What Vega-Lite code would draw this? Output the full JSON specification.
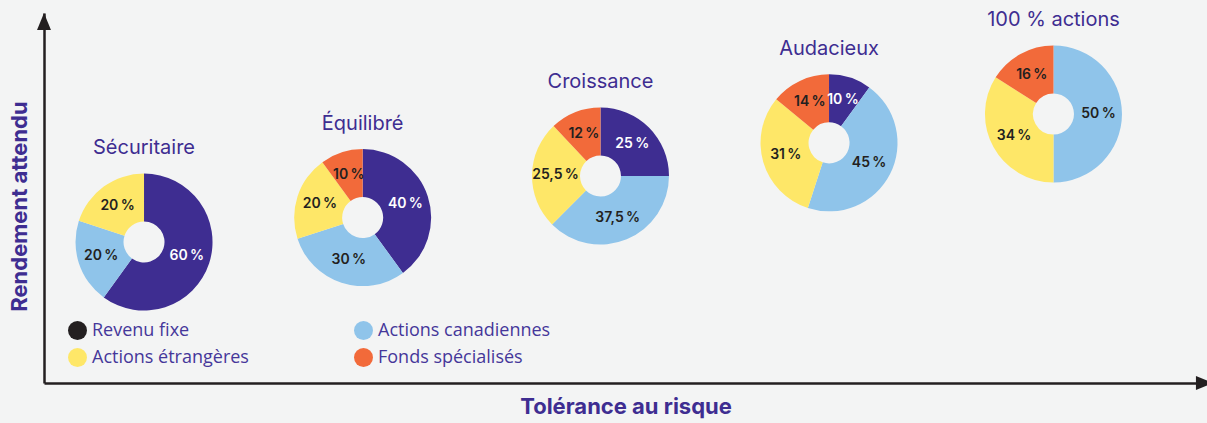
{
  "$schema": "https://vega.github.io/schema/vega-lite/v6.json",
  "width": 1163,
  "height": 370,
  "autosize": {"type": "none"},
  "padding": {"left": 44, "top": 13, "right": 0, "bottom": 40},
  "background": "#f3f4f4",
  "config": {
    "view": {"stroke": null},
    "legend": {
      "orient": "none",
      "direction": "horizontal",
      "legendX": 24,
      "legendY": 308,
      "columns": 2,
      "columnPadding": 105,
      "rowPadding": 8,
      "symbolType": "circle",
      "symbolSize": 360,
      "symbolOpacity": 1,
      "symbolStrokeWidth": 0,
      "labelFont": "Open Sans",
      "labelFontSize": 18,
      "labelColor": "#45379a",
      "labelOffset": 5,
      "labelLimit": 400
    }
  },
  "datasets": {
    "profiles": [
      {"profile": "Sécuritaire", "tolerance": 8.6, "rendement": 38.1},
      {"profile": "Équilibré", "tolerance": 27.4, "rendement": 44.7},
      {"profile": "Croissance", "tolerance": 47.85, "rendement": 55.95},
      {"profile": "Audacieux", "tolerance": 67.5, "rendement": 64.9},
      {"profile": "100 % actions", "tolerance": 86.8, "rendement": 72.7}
    ],
    "allocations": [
      {"profile": "Sécuritaire", "category": "Revenu fixe", "rank": 1, "value": 60, "label": "60\u202f%"},
      {"profile": "Sécuritaire", "category": "Actions canadiennes", "rank": 2, "value": 20, "label": "20\u202f%"},
      {"profile": "Sécuritaire", "category": "Actions étrangères", "rank": 3, "value": 20, "label": "20\u202f%"},
      {"profile": "Équilibré", "category": "Revenu fixe", "rank": 1, "value": 40, "label": "40\u202f%"},
      {"profile": "Équilibré", "category": "Actions canadiennes", "rank": 2, "value": 30, "label": "30\u202f%"},
      {"profile": "Équilibré", "category": "Actions étrangères", "rank": 3, "value": 20, "label": "20\u202f%"},
      {"profile": "Équilibré", "category": "Fonds spécialisés", "rank": 4, "value": 10, "label": "10\u202f%"},
      {"profile": "Croissance", "category": "Revenu fixe", "rank": 1, "value": 25, "label": "25\u202f%"},
      {"profile": "Croissance", "category": "Actions canadiennes", "rank": 2, "value": 37.5, "label": "37,5\u202f%"},
      {"profile": "Croissance", "category": "Actions étrangères", "rank": 3, "value": 25.5, "label": "25,5\u202f%"},
      {"profile": "Croissance", "category": "Fonds spécialisés", "rank": 4, "value": 12, "label": "12\u202f%"},
      {"profile": "Audacieux", "category": "Revenu fixe", "rank": 1, "value": 10, "label": "10\u202f%"},
      {"profile": "Audacieux", "category": "Actions canadiennes", "rank": 2, "value": 45, "label": "45\u202f%"},
      {"profile": "Audacieux", "category": "Actions étrangères", "rank": 3, "value": 31, "label": "31\u202f%"},
      {"profile": "Audacieux", "category": "Fonds spécialisés", "rank": 4, "value": 14, "label": "14\u202f%"},
      {"profile": "100 % actions", "category": "Actions canadiennes", "rank": 2, "value": 50, "label": "50\u202f%"},
      {"profile": "100 % actions", "category": "Actions étrangères", "rank": 3, "value": 34, "label": "34\u202f%"},
      {"profile": "100 % actions", "category": "Fonds spécialisés", "rank": 4, "value": 16, "label": "16\u202f%"}
    ]
  },
  "encoding": {
    "x": {
      "field": "tolerance",
      "type": "quantitative",
      "scale": {"domain": [0, 100], "nice": false, "zero": false},
      "axis": {
        "title": "Tolérance au risque",
        "titleFont": "Inter",
        "titleFontWeight": 700,
        "titleFontSize": 22,
        "titleColor": "#3e2d91",
        "titlePadding": 13,
        "labels": false,
        "ticks": false,
        "grid": false,
        "domainColor": "#231f20",
        "domainWidth": 2.5
      }
    },
    "y": {
      "field": "rendement",
      "type": "quantitative",
      "scale": {"domain": [0, 100], "nice": false, "zero": false},
      "axis": {
        "title": "Rendement attendu",
        "titleFont": "Inter",
        "titleFontWeight": 700,
        "titleFontSize": 22,
        "titleColor": "#3e2d91",
        "titlePadding": 13,
        "titleY": 193,
        "labels": false,
        "ticks": false,
        "grid": false,
        "domainColor": "#231f20",
        "domainWidth": 2.5
      }
    }
  },
  "layer": [
    {
      "data": {"name": "profiles"},
      "transform": [{"filter": "datum.profile === 'Sécuritaire'"}],
      "mark": {"type": "point", "shape": "M0,-1L0.82,1L-0.82,1Z", "size": 289, "filled": true, "opacity": 1},
      "encoding": {
        "x": {"datum": 0, "type": "quantitative"},
        "y": {"datum": 97.7, "type": "quantitative"},
        "color": {"value": "#231f20"}
      }
    },
    {
      "data": {"name": "profiles"},
      "transform": [{"filter": "datum.profile === 'Sécuritaire'"}],
      "mark": {"type": "point", "shape": "M1,0L-1,0.82L-1,-0.82Z", "size": 289, "filled": true, "opacity": 1},
      "encoding": {
        "x": {"datum": 99.78, "type": "quantitative"},
        "y": {"datum": 0, "type": "quantitative"},
        "color": {"value": "#231f20"}
      }
    },
    {
      "data": {"name": "allocations"},
      "transform": [
        {"lookup": "profile", "from": {"data": {"name": "profiles"}, "key": "profile", "fields": ["tolerance", "rendement"]}}
      ],
      "mark": {"type": "circle", "opacity": 0},
      "encoding": {
        "fill": {
          "field": "category",
          "type": "nominal",
          "scale": {
            "domain": ["Revenu fixe", "Actions canadiennes", "Actions étrangères", "Fonds spécialisés"],
            "range": ["#231f20", "#8fc4ea", "#fee768", "#f26a3a"]
          },
          "legend": {"title": null}
        }
      }
    },
    {
      "data": {"name": "profiles"},
      "mark": {"type": "text", "font": "Inter", "fontSize": 20, "fontWeight": 400, "dy": -94, "align": "center", "baseline": "middle"},
      "encoding": {
        "text": {"field": "profile"},
        "color": {"value": "#3e2d91"}
      }
    },
    {
      "data": {"name": "allocations"},
      "transform": [
        {"filter": "datum.profile === 'Sécuritaire'"},
        {"lookup": "profile", "from": {"data": {"name": "profiles"}, "key": "profile", "fields": ["tolerance", "rendement"]}}
      ],
      "encoding": {
        "theta": {"field": "value", "type": "quantitative", "stack": true, "scale": {"domain": [0, 100]}},
        "order": {"field": "rank", "type": "quantitative"}
      },
      "layer": [
        {
          "mark": {"type": "arc", "innerRadius": 20.5, "outerRadius": 68.5},
          "encoding": {
            "color": {"field": "category", "type": "nominal", "legend": null, "scale": {"domain": ["Revenu fixe", "Actions canadiennes", "Actions étrangères", "Fonds spécialisés"], "range": ["#3e2d91", "#8fc4ea", "#fee768", "#f26a3a"]}}
          }
        },
        {
          "mark": {"type": "text", "radius": 45, "font": "Inter", "fontWeight": 600, "fontSize": 14},
          "encoding": {
            "text": {"field": "label"},
            "detail": {"field": "category"},
            "color": {"condition": {"test": "datum.category === 'Revenu fixe'", "value": "#ffffff"}, "value": "#231f20"}
          }
        }
      ]
    },
    {
      "data": {"name": "allocations"},
      "transform": [
        {"filter": "datum.profile === 'Équilibré'"},
        {"lookup": "profile", "from": {"data": {"name": "profiles"}, "key": "profile", "fields": ["tolerance", "rendement"]}}
      ],
      "encoding": {
        "theta": {"field": "value", "type": "quantitative", "stack": true, "scale": {"domain": [0, 100]}},
        "order": {"field": "rank", "type": "quantitative"}
      },
      "layer": [
        {
          "mark": {"type": "arc", "innerRadius": 20.5, "outerRadius": 68.5},
          "encoding": {
            "color": {"field": "category", "type": "nominal", "legend": null, "scale": {"domain": ["Revenu fixe", "Actions canadiennes", "Actions étrangères", "Fonds spécialisés"], "range": ["#3e2d91", "#8fc4ea", "#fee768", "#f26a3a"]}}
          }
        },
        {
          "mark": {"type": "text", "radius": 45, "font": "Inter", "fontWeight": 600, "fontSize": 14},
          "encoding": {
            "text": {"field": "label"},
            "detail": {"field": "category"},
            "color": {"condition": {"test": "datum.category === 'Revenu fixe'", "value": "#ffffff"}, "value": "#231f20"}
          }
        }
      ]
    },
    {
      "data": {"name": "allocations"},
      "transform": [
        {"filter": "datum.profile === 'Croissance'"},
        {"lookup": "profile", "from": {"data": {"name": "profiles"}, "key": "profile", "fields": ["tolerance", "rendement"]}}
      ],
      "encoding": {
        "theta": {"field": "value", "type": "quantitative", "stack": true, "scale": {"domain": [0, 100]}},
        "order": {"field": "rank", "type": "quantitative"}
      },
      "layer": [
        {
          "mark": {"type": "arc", "innerRadius": 20.5, "outerRadius": 68.5},
          "encoding": {
            "color": {"field": "category", "type": "nominal", "legend": null, "scale": {"domain": ["Revenu fixe", "Actions canadiennes", "Actions étrangères", "Fonds spécialisés"], "range": ["#3e2d91", "#8fc4ea", "#fee768", "#f26a3a"]}}
          }
        },
        {
          "mark": {"type": "text", "radius": 45, "font": "Inter", "fontWeight": 600, "fontSize": 14},
          "encoding": {
            "text": {"field": "label"},
            "detail": {"field": "category"},
            "color": {"condition": {"test": "datum.category === 'Revenu fixe'", "value": "#ffffff"}, "value": "#231f20"}
          }
        }
      ]
    },
    {
      "data": {"name": "allocations"},
      "transform": [
        {"filter": "datum.profile === 'Audacieux'"},
        {"lookup": "profile", "from": {"data": {"name": "profiles"}, "key": "profile", "fields": ["tolerance", "rendement"]}}
      ],
      "encoding": {
        "theta": {"field": "value", "type": "quantitative", "stack": true, "scale": {"domain": [0, 100]}},
        "order": {"field": "rank", "type": "quantitative"}
      },
      "layer": [
        {
          "mark": {"type": "arc", "innerRadius": 20.5, "outerRadius": 68.5},
          "encoding": {
            "color": {"field": "category", "type": "nominal", "legend": null, "scale": {"domain": ["Revenu fixe", "Actions canadiennes", "Actions étrangères", "Fonds spécialisés"], "range": ["#3e2d91", "#8fc4ea", "#fee768", "#f26a3a"]}}
          }
        },
        {
          "mark": {"type": "text", "radius": 45, "font": "Inter", "fontWeight": 600, "fontSize": 14},
          "encoding": {
            "text": {"field": "label"},
            "detail": {"field": "category"},
            "color": {"condition": {"test": "datum.category === 'Revenu fixe'", "value": "#ffffff"}, "value": "#231f20"}
          }
        }
      ]
    },
    {
      "data": {"name": "allocations"},
      "transform": [
        {"filter": "datum.profile === '100 % actions'"},
        {"lookup": "profile", "from": {"data": {"name": "profiles"}, "key": "profile", "fields": ["tolerance", "rendement"]}}
      ],
      "encoding": {
        "theta": {"field": "value", "type": "quantitative", "stack": true, "scale": {"domain": [0, 100]}},
        "order": {"field": "rank", "type": "quantitative"}
      },
      "layer": [
        {
          "mark": {"type": "arc", "innerRadius": 20.5, "outerRadius": 68.5},
          "encoding": {
            "color": {"field": "category", "type": "nominal", "legend": null, "scale": {"domain": ["Revenu fixe", "Actions canadiennes", "Actions étrangères", "Fonds spécialisés"], "range": ["#3e2d91", "#8fc4ea", "#fee768", "#f26a3a"]}}
          }
        },
        {
          "mark": {"type": "text", "radius": 45, "font": "Inter", "fontWeight": 600, "fontSize": 14},
          "encoding": {
            "text": {"field": "label"},
            "detail": {"field": "category"},
            "color": {"condition": {"test": "datum.category === 'Revenu fixe'", "value": "#ffffff"}, "value": "#231f20"}
          }
        }
      ]
    }
  ]
}
